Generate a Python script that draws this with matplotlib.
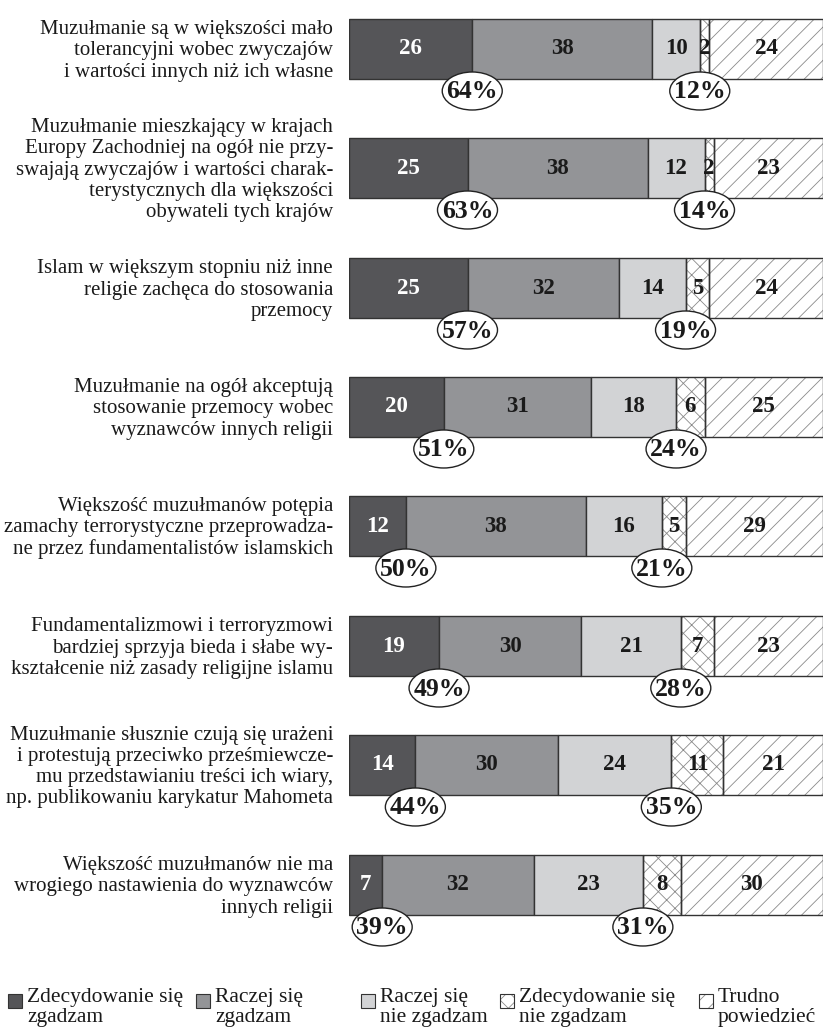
import matplotlib
matplotlib.use("Agg")
import matplotlib.pyplot as plt
from matplotlib.patches import Ellipse, Rectangle

plt.rcParams['font.family'] = ['Liberation Serif', 'DejaVu Serif']
plt.rcParams['hatch.linewidth'] = 0.6

questions = [
    "Muzułmanie są w większości mało\ntolerancyjni wobec zwyczajów\ni wartości innych niż ich własne",
    "Muzułmanie mieszkający w krajach\nEuropy Zachodniej na ogół nie przy-\nswajają zwyczajów i wartości charak-\nterystycznych dla większości\nobywateli tych krajów",
    "Islam w większym stopniu niż inne\nreligie zachęca do stosowania\nprzemocy",
    "Muzułmanie na ogół akceptują\nstosowanie przemocy wobec\nwyznawców innych religii",
    "Większość muzułmanów potępia\nzamachy terrorystyczne przeprowadza-\nne przez fundamentalistów islamskich",
    "Fundamentalizmowi i terroryzmowi\nbardziej sprzyja bieda i słabe wy-\nkształcenie niż zasady religijne islamu",
    "Muzułmanie słusznie czują się urażeni\ni protestują przeciwko prześmiewcze-\nmu przedstawianiu treści ich wiary,\nnp. publikowaniu karykatur Mahometa",
    "Większość muzułmanów nie ma\nwrogiego nastawienia do wyznawców\ninnych religii",
]

strongly_agree = [26, 25, 25, 20, 12, 19, 14, 7]
rather_agree = [38, 38, 32, 31, 38, 30, 30, 32]
rather_disagree = [10, 12, 14, 18, 16, 21, 24, 23]
strongly_disagree = [2, 2, 5, 6, 5, 7, 11, 8]
hard_to_say = [24, 23, 24, 25, 29, 23, 21, 30]

agree_total = [64, 63, 57, 51, 50, 49, 44, 39]
disagree_total = [12, 14, 19, 24, 21, 28, 35, 31]

legend_labels = [
    "Zdecydowanie się\nzgadzam",
    "Raczej się\nzgadzam",
    "Raczej się\nnie zgadzam",
    "Zdecydowanie się\nnie zgadzam",
    "Trudno\npowiedzieć",
]

# layout (pixels)
W, H = 830, 1027
bar_left, bar_right = 349, 823
row_y = [49, 168, 288, 407, 526, 646, 765, 885]
bar_h = 60
px_per_unit = (bar_right - bar_left) / 100.0


def px2x(px):
    return (px - bar_left) / px_per_unit


fig = plt.figure(figsize=(W / 100, H / 100), dpi=100)
ax = fig.add_axes([bar_left / W, 0, (bar_right - bar_left) / W, 1])
ax.set_xlim(0, 100)
ax.set_ylim(H, 0)
ax.axis('off')

styles = [
    dict(color='#555558', hatch=None),
    dict(color='#939497', hatch=None),
    dict(color='#d2d3d5', hatch=None),
    dict(color='white', hatch='xx'),
    dict(color='white', hatch='//'),
]
series = [strongly_agree, rather_agree, rather_disagree, strongly_disagree, hard_to_say]

lefts = [0] * len(row_y)
for k, (vals, st) in enumerate(zip(series, styles)):
    if st['hatch']:
        ax.barh(row_y, vals, left=lefts, height=bar_h, color='white',
                edgecolor='#8a8a8a', hatch=st['hatch'], linewidth=0, zorder=2)
        ax.barh(row_y, vals, left=lefts, height=bar_h, fill=False,
                edgecolor='#333333', linewidth=1.0, zorder=3)
    else:
        ax.barh(row_y, vals, left=lefts, height=bar_h, color=st['color'],
                edgecolor='#333333', linewidth=1.0, zorder=3)
    for i, v in enumerate(vals):
        ax.text(lefts[i] + v / 2, row_y[i], str(v), ha='center', va='center',
                fontsize=16.5, fontweight='bold',
                color='white' if k == 0 else '#1a1a1a', zorder=4)
    lefts = [a + b for a, b in zip(lefts, vals)]

ell_w = 60 / px_per_unit
ell_h = 38
for i, y in enumerate(row_y):
    cy = y + bar_h / 2 + 12
    x1 = strongly_agree[i]
    x2 = strongly_agree[i] + rather_agree[i] + rather_disagree[i]
    for cx, tot in ((x1, agree_total[i]), (x2, disagree_total[i])):
        ax.add_patch(Ellipse((cx, cy), ell_w, ell_h, facecolor='white',
                             edgecolor='#222222', linewidth=1.0, zorder=5,
                             clip_on=False))
        ax.text(cx, cy + 1, f"{tot}%", ha='center', va='center', fontsize=18.5,
                fontweight='bold', color='#1a1a1a', zorder=6)

for q, y in zip(questions, row_y):
    ax.text(px2x(333), y + 2, q, ha='right', va='center', multialignment='right',
            fontsize=15, linespacing=1.15, color='#1a1a1a', clip_on=False)

# legend
leg_px = [8, 196, 361, 500, 699]
sq = 14
sq_top = 994
for lab, px, st in zip(legend_labels, leg_px, styles):
    if st['hatch']:
        ax.add_patch(Rectangle((px2x(px), sq_top), sq / px_per_unit, sq,
                               facecolor='white', edgecolor='#8a8a8a',
                               hatch=st['hatch'], linewidth=0, clip_on=False))
        ax.add_patch(Rectangle((px2x(px), sq_top), sq / px_per_unit, sq,
                               fill=False, edgecolor='#333333', linewidth=0.8,
                               clip_on=False))
    else:
        ax.add_patch(Rectangle((px2x(px), sq_top), sq / px_per_unit, sq,
                               facecolor=st['color'], edgecolor='#333333',
                               linewidth=0.8, clip_on=False))
    ax.text(px2x(px + sq + 5), sq_top - 6, lab, ha='left', va='top',
            fontsize=15.5, linespacing=1.05, color='#1a1a1a', clip_on=False)

fig.savefig('out.png', dpi=100)
